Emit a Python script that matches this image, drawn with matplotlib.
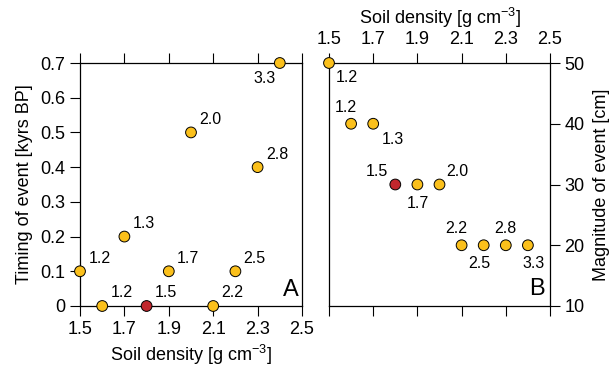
import matplotlib
matplotlib.use("Agg")
import matplotlib.pyplot as plt

plt.rcParams['font.family'] = ['Liberation Sans', 'DejaVu Sans']
plt.rcParams['mathtext.default'] = 'regular'

# Data
density = [1.5, 1.6, 1.7, 1.8, 1.9, 2.0, 2.1, 2.2, 2.3, 2.4]
timing = [0.1, 0.0, 0.2, 0.0, 0.1, 0.5, 0.0, 0.1, 0.4, 0.7]
magnitude = [50, 40, 40, 30, 30, 30, 20, 20, 20, 20]
labels = ["1.2", "1.2", "1.3", "1.5", "1.7", "2.0", "2.2", "2.5", "2.8", "3.3"]
highlight = "1.5"

xticks = [1.5, 1.7, 1.9, 2.1, 2.3, 2.5]
yticksA = [0, 0.1, 0.2, 0.3, 0.4, 0.5, 0.6, 0.7]
yticklabelsA = ["0", "0.1", "0.2", "0.3", "0.4", "0.5", "0.6", "0.7"]
yticksB = [10, 20, 30, 40, 50]

YELLOW = '#FBC01B'
RED = '#C1272D'

W, H = 614, 371
fig = plt.figure(figsize=(W / 100, H / 100), dpi=100)

def px(x0, y0, x1, y1):
    return [x0 / W, 1 - y1 / H, (x1 - x0) / W, (y1 - y0) / H]

axA = fig.add_axes(px(80, 63, 302, 306))
axB = fig.add_axes(px(329, 63, 550, 306))

colors = [RED if l == highlight else YELLOW for l in labels]
# make red point unique per-index (only the 4th entry)
colors = [RED if i == 3 else YELLOW for i in range(len(labels))]

tick_kw = dict(direction='out', length=7.5, width=0.8, labelsize=13, pad=3)

for ax in (axA, axB):
    for s in ax.spines.values():
        s.set_linewidth(0.9)
    ax.set_xlim(1.5, 2.5)
    ax.set_xticks(xticks)
    ax.set_xticklabels([f"{t:.1f}" for t in xticks])

# Panel A
axA.scatter(density, timing, s=60, c=colors, edgecolors='black', linewidths=0.7,
            zorder=5, clip_on=False)
axA.set_ylim(0, 0.7)
axA.set_yticks(yticksA)
axA.set_yticklabels(yticklabelsA)
axA.tick_params(axis='both', which='both', top=True, bottom=True, left=True,
                right=False, labeltop=False, labelbottom=True, **tick_kw)
axA.set_xlabel('Soil density [g cm$^{-3}$]', fontsize=13, labelpad=4)
axA.set_ylabel('Timing of event [kyrs BP]', fontsize=13, labelpad=5)

offA = {i: ((6, 4), 'left', 'bottom') for i in range(len(labels))}
offA[9] = ((-3, -6), 'right', 'top')
for i, (x, y, l) in enumerate(zip(density, timing, labels)):
    (dx, dy), ha, va = offA[i]
    axA.annotate(l, (x, y), xytext=(dx, dy), textcoords='offset points',
                 ha=ha, va=va, fontsize=11.5)
axA.text(0.985, 0.02, 'A', transform=axA.transAxes, ha='right', va='bottom',
         fontsize=17)

# Panel B
axB.scatter(density, magnitude, s=60, c=colors, edgecolors='black', linewidths=0.7,
            zorder=5, clip_on=False)
axB.set_ylim(10, 50)
axB.set_yticks(yticksB)
axB.tick_params(axis='both', which='both', top=True, bottom=True, left=False,
                right=True, labeltop=True, labelbottom=False, labelleft=False,
                labelright=True, **tick_kw)
axB.xaxis.set_label_position('top')
axB.yaxis.set_label_position('right')
axB.set_xlabel('Soil density [g cm$^{-3}$]', fontsize=13, labelpad=5)
axB.set_ylabel('Magnitude of event [cm]', fontsize=13, labelpad=6,
               rotation=90)

offB = [((5, -5), 'left', 'top'),
        ((-4, 6), 'center', 'bottom'),
        ((6, -6), 'left', 'top'),
        ((-5, 4), 'right', 'bottom'),
        ((0, -8), 'center', 'top'),
        ((5, 4), 'left', 'bottom'),
        ((-4, 7), 'center', 'bottom'),
        ((-3, -8), 'center', 'top'),
        ((0, 7), 'center', 'bottom'),
        ((4, -8), 'center', 'top')]
for i, (x, y, l) in enumerate(zip(density, magnitude, labels)):
    (dx, dy), ha, va = offB[i]
    axB.annotate(l, (x, y), xytext=(dx, dy), textcoords='offset points',
                 ha=ha, va=va, fontsize=11.5)
axB.text(0.975, 0.025, 'B', transform=axB.transAxes, ha='right', va='bottom',
         fontsize=17)

fig.savefig('out.png', dpi=100)
